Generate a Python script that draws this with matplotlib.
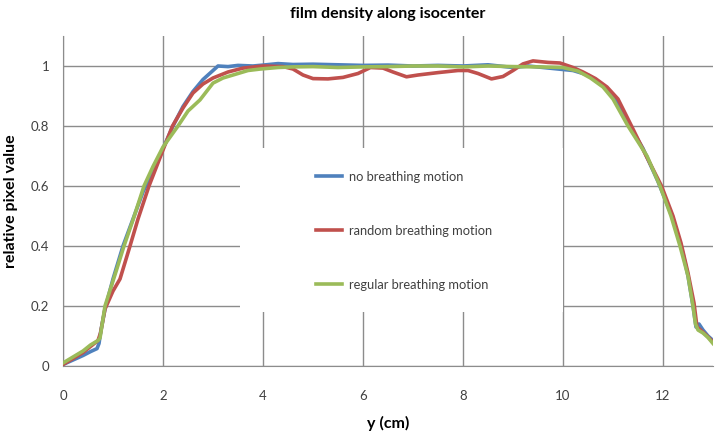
import matplotlib
matplotlib.use("Agg")
import matplotlib.pyplot as plt
from matplotlib.patches import Rectangle

plt.rcParams['font.family'] = ['Lato', 'DejaVu Sans']

title = "film density along isocenter"
xlabel = "y (cm)"
ylabel = "relative pixel value"
labels = ["no breathing motion", "random breathing motion", "regular breathing motion"]
colors = ["#4F81BD", "#C0504D", "#9BBB59"]

x_no = [0, 0.2, 0.4, 0.55, 0.68, 0.72, 0.76, 0.84, 1.0, 1.2, 1.4, 1.6, 1.8, 2.0, 2.2, 2.4,
        2.6, 2.8, 3.0, 3.1, 3.3, 3.5, 3.8, 4.0, 4.3, 4.6, 5.0, 5.5, 6.0, 6.5, 7.0, 7.5, 8.0,
        8.5, 9.0, 9.3, 9.6, 9.9, 10.2, 10.5, 10.8, 11.0, 11.3, 11.6, 11.9, 12.2, 12.4, 12.5,
        12.6, 12.66, 12.72, 12.8, 12.9, 13.0]
y_no = [0.005, 0.02, 0.035, 0.048, 0.058, 0.075, 0.12, 0.19, 0.29, 0.40, 0.49, 0.58, 0.65,
        0.725, 0.80, 0.865, 0.915, 0.955, 0.985, 1.0, 0.998, 1.002, 1.0, 1.003, 1.008, 1.005,
        1.006, 1.004, 1.002, 1.003, 1.0, 1.002, 1.0, 1.004, 0.995, 1.0, 0.995, 0.99, 0.985,
        0.97, 0.935, 0.9, 0.81, 0.725, 0.615, 0.49, 0.375, 0.30, 0.20, 0.13, 0.14, 0.12,
        0.10, 0.085]

x_rand = [0, 0.2, 0.4, 0.55, 0.7, 0.75, 0.84, 1.0, 1.14, 1.34, 1.5, 1.72, 2.0, 2.19, 2.4,
          2.6, 2.8, 3.0, 3.3, 3.6, 4.0, 4.4, 4.6, 4.8, 5.0, 5.3, 5.6, 5.9, 6.15, 6.4, 6.6,
          6.87, 7.1, 7.5, 7.9, 8.1, 8.3, 8.57, 8.8, 9.0, 9.2, 9.4, 9.7, 9.94, 10.2, 10.4,
          10.65, 10.88, 11.1, 11.37, 11.65, 11.97, 12.2, 12.36, 12.5, 12.62, 12.68, 12.75,
          12.85, 13.0]
y_rand = [0.005, 0.025, 0.045, 0.065, 0.085, 0.11, 0.19, 0.25, 0.29, 0.40, 0.49, 0.60, 0.72,
          0.80, 0.86, 0.91, 0.94, 0.96, 0.98, 0.993, 1.0, 0.998, 0.99, 0.97, 0.958, 0.957,
          0.962, 0.975, 0.995, 0.993, 0.98, 0.964, 0.97, 0.978, 0.985, 0.985, 0.975, 0.957,
          0.965, 0.985, 1.007, 1.017, 1.012, 1.01, 0.995, 0.98, 0.958, 0.93, 0.89, 0.80,
          0.705, 0.60, 0.50, 0.41, 0.31, 0.21, 0.13, 0.12, 0.105, 0.08]

x_reg = [0, 0.2, 0.4, 0.55, 0.7, 0.74, 0.84, 1.07, 1.22, 1.4, 1.62, 1.8, 2.0, 2.3, 2.5,
         2.74, 3.0, 3.2, 3.5, 3.7, 3.95, 4.3, 4.6, 5.0, 5.5, 6.0, 6.5, 7.0, 7.5, 8.0, 8.5,
         9.0, 9.5, 10.0, 10.3, 10.55, 10.8, 11.0, 11.3, 11.68, 11.94, 12.16, 12.34, 12.5,
         12.6, 12.65, 12.7, 12.8, 12.9, 13.0]
y_reg = [0.01, 0.03, 0.05, 0.07, 0.085, 0.093, 0.20, 0.32, 0.40, 0.487, 0.60, 0.665, 0.73,
         0.80, 0.85, 0.887, 0.943, 0.96, 0.975, 0.985, 0.99, 0.995, 0.997, 0.998, 0.995,
         0.997, 0.998, 1.0, 1.0, 0.997, 1.0, 0.998, 0.997, 0.995, 0.983, 0.96, 0.93, 0.89,
         0.80, 0.70, 0.60, 0.50, 0.40, 0.30, 0.20, 0.14, 0.12, 0.11, 0.095, 0.075]

xticks = [0, 2, 4, 6, 8, 10, 12]
yticks = [0, 0.2, 0.4, 0.6, 0.8, 1.0]
yticklabels = ["0", "0.2", "0.4", "0.6", "0.8", "1"]

fig = plt.figure(figsize=(7.19, 4.36), dpi=100)
ax = fig.add_axes([63/719, 1-366/436, 650/719, 330/436])

series = [(x_no, y_no), (x_rand, y_rand), (x_reg, y_reg)]
for (xs, ys), lab, c in zip(series, labels, colors):
    ax.plot(xs, ys, color=c, lw=2.6, label=lab, zorder=3, solid_joinstyle='round')

ax.set_xlim(0, 13)
ax.set_ylim(0, 1.1)
ax.set_xticks(xticks)
ax.set_yticks(yticks)
ax.set_yticklabels(yticklabels)
ax.set_axisbelow(True)
ax.grid(True, color="#8c8c8c", lw=1.0)
for s in ["top", "right"]:
    ax.spines[s].set_visible(False)
for s in ["left", "bottom"]:
    ax.spines[s].set_color("#8c8c8c")
ax.tick_params(length=0, labelsize=9.5, labelcolor="#404040")
ax.tick_params(axis='x', pad=17)
ax.tick_params(axis='y', pad=10)

# white legend area hiding grid
ax.add_patch(Rectangle((3.54, 0.18), 6.46, 0.547, facecolor="white", edgecolor="none", zorder=1.5))

leg = ax.legend(loc="center left", bbox_to_anchor=(4.94, 0.45), bbox_transform=ax.transData,
                frameon=False, fontsize=9.3, handlelength=2.0, handletextpad=0.55,
                labelspacing=3.25, borderpad=0)
for t in leg.get_texts():
    t.set_color("#404040")

ax.set_title(title, fontsize=11.5, fontweight="bold", pad=13)
ax.set_xlabel(xlabel, fontsize=11.5, fontweight="bold", labelpad=10)
ax.set_ylabel(ylabel, fontsize=11.5, fontweight="bold", labelpad=9)

fig.savefig("out.png", dpi=100)
